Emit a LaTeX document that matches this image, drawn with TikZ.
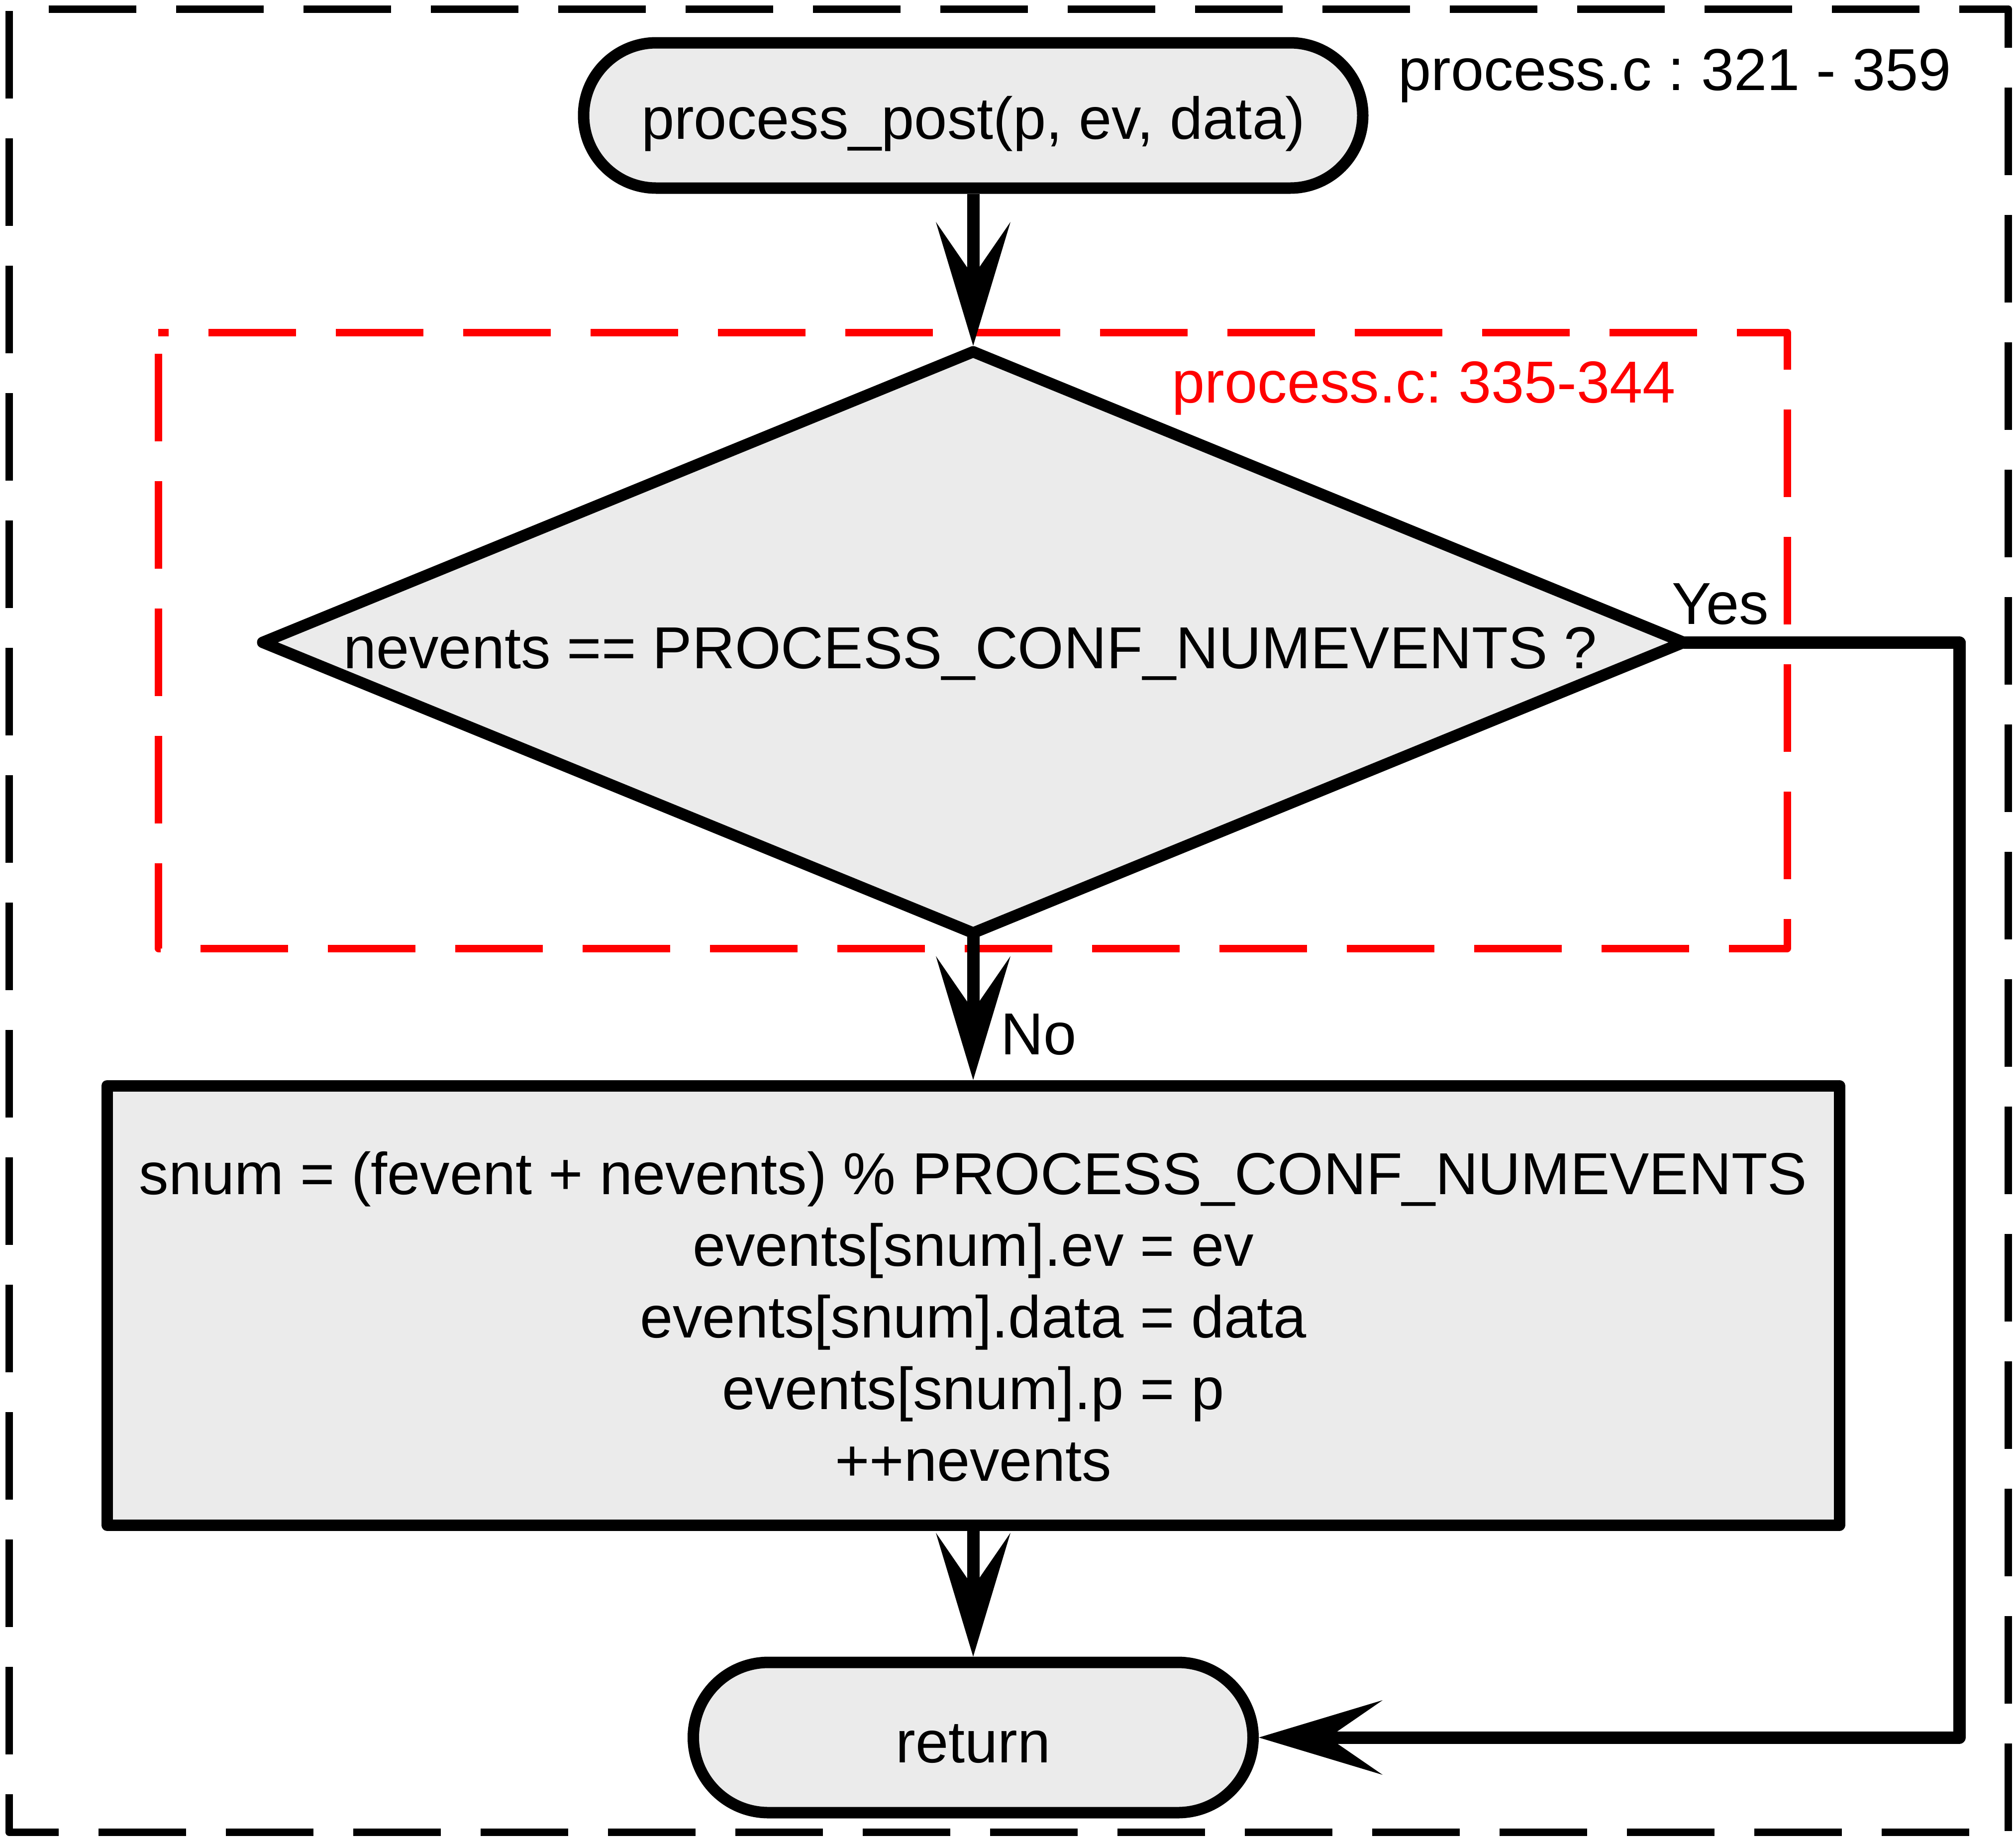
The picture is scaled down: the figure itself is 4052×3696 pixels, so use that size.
\documentclass[tikz,border=0pt]{standalone}
\usepackage{fontspec}
\setmainfont{Liberation Sans}
\frenchspacing
\usetikzlibrary{arrows.meta,shapes.geometric}
\definecolor{shapefill}{RGB}{235,235,235}
\definecolor{codered}{RGB}{255,0,0}
\tikzset{
  txt/.style={font=\fontsize{29.75pt}{36pt}\selectfont},
  terminal/.style={draw=black, fill=shapefill, line width=5.75pt, rounded corners=#1, txt},
  stepbox/.style={draw=black, fill=shapefill, line width=5.75pt, line join=round, txt, align=center},
  decision/.style={draw=black, fill=shapefill, line width=5.75pt, line join=round, diamond, inner sep=0pt, outer sep=0pt},
  flow/.style={line width=6.25pt, line join=round, -{Stealth[length=62.25pt, width=37.5pt, inset=27.25pt, line width=0pt]}},
  frame/.style={line width=3.75pt, dash pattern=on 44pt off 20pt, line join=round},
  plain/.style={txt, inner sep=0pt}
}
\begin{document}
\begin{tikzpicture}[x=0.25pt, y=-0.25pt]
\useasboundingbox (0,0) rectangle (4052,3696);
% outer frame
\draw[frame, black, dash phase=44pt] (18,18) -- (4036,18) -- (4036,3682) -- (18,3682) -- cycle;
\node[plain, anchor=base west] (filelbl) at (2810,181) {process.c : 321 - 359};
% red group frame
\draw[frame, codered, dash phase=38.75pt] (318,668) -- (3592,668) -- (3592,1906) -- (318,1906) -- cycle;
\node[plain, anchor=base west, text=codered] (grouplbl) at (2355,809) {process.c: 335-344};
% nodes
\node[terminal=36.5pt, minimum width=391.5pt, minimum height=73pt, text height=29.5pt, text depth=6pt] (start) at (1956,232) {process\_post(p, ev, data)};
\node[decision, minimum width=714pt, minimum height=292pt] (dec) at (1956,1291) {};
\node[plain, anchor=base] (dectext) at (1950,1343) {nevents == PROCESS\_CONF\_NUMEVENTS ?};
\node[stepbox, minimum width=870.5pt, minimum height=220.75pt, text height=176.5pt, text depth=0.25pt] (body) at (1956,2623.5)
  {snum = (fevent + nevents) \% PROCESS\_CONF\_NUMEVENTS\\
   events[snum].ev = ev\\
   events[snum].data = data\\
   events[snum].p = p\\
   ++nevents};
\node[terminal=37.75pt, minimum width=281.25pt, minimum height=75.5pt, text height=31pt, text depth=6pt] (ret) at (1956,3492) {return};
% connectors
\coordinate (yc) at (3938,1291);
\draw[flow, shorten >=3pt] (start.south) -- (dec.north);
\draw[flow] (dec.south) -- (body.north);
\draw[flow] (body.south) -- (ret.north);
\draw[flow] (dec.east) -- (yc) |- (ret.east);
\node[plain, anchor=base] (yeslbl) at (3458,1254) {Yes};
\node[plain, anchor=base] (nolbl) at (2088,2119) {No};
\end{tikzpicture}
\end{document}
